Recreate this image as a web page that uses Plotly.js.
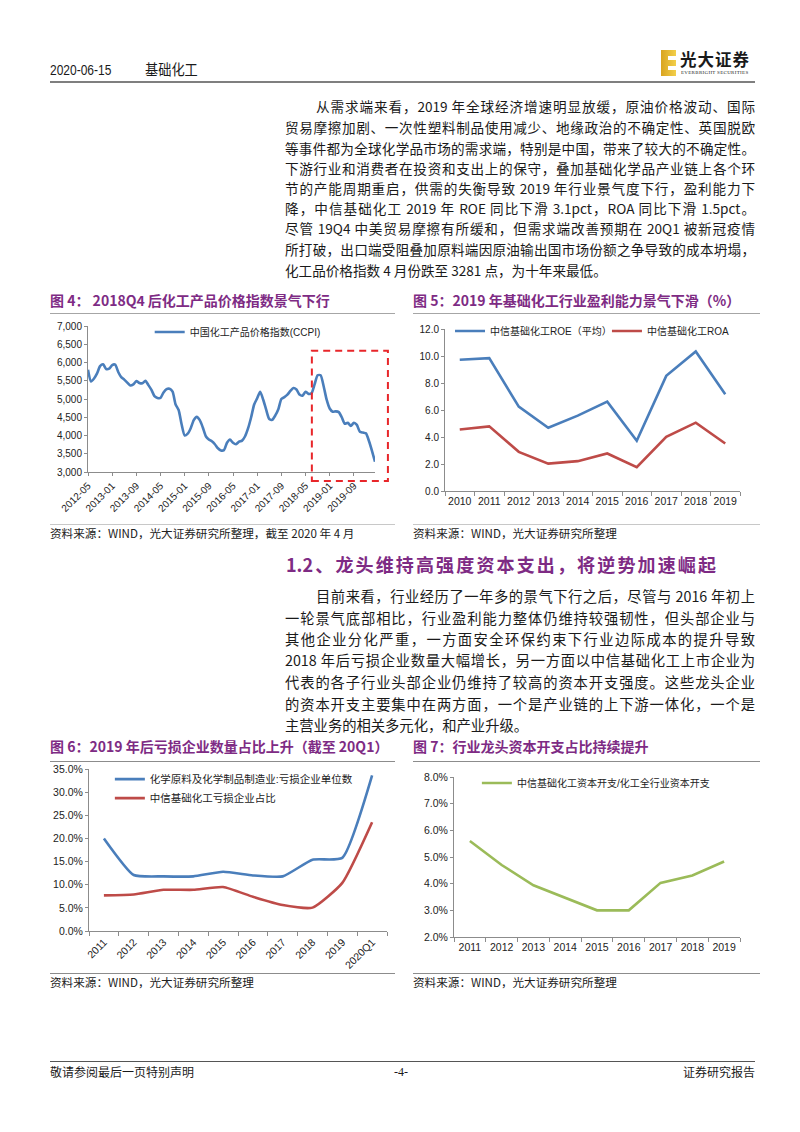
<!DOCTYPE html>
<html><head><meta charset="utf-8">
<script src="https://cdn.plot.ly/plotly-3.0.1.min.js"></script>
<style>
body{margin:0;width:800px;height:1132px;position:relative;background:#fff;font-family:"Noto Sans CJK SC","Noto Sans",sans-serif;overflow:hidden;color:#1a1a1a}
.a{position:absolute;white-space:nowrap;line-height:1}
.j{position:absolute;text-align:justify;text-align-last:justify;line-height:1;white-space:nowrap}
.p1{font-size:13.6px}
.p2{font-size:14.3px}
.ft{position:absolute;font-size:14px;font-weight:bold;color:#7E2B84;white-space:nowrap;line-height:1}
.src{position:absolute;font-size:11.6px;color:#222;white-space:nowrap;line-height:1}
.hl{position:absolute;height:0}
.ch{position:absolute}
</style></head><body>

<!-- header -->
<div class="a" style="left:50px;top:62px;font-family:'Liberation Sans',sans-serif;font-size:15px;transform:scaleX(0.8);transform-origin:left;">2020-06-15</div>
<div class="a" style="left:145px;top:61px;font-size:15px;transform:scaleX(0.88);transform-origin:left;">基础化工</div>
<div style="position:absolute;left:661px;top:50px;width:15px;height:26px;background:linear-gradient(90deg,#d9a420,#f2cf4a);"></div>
<div style="position:absolute;left:668px;top:56px;width:8px;height:4px;background:#fff;"></div>
<div style="position:absolute;left:668px;top:66px;width:8px;height:4px;background:#fff;"></div>
<div class="a" style="left:680px;top:51px;font-size:16.5px;font-weight:bold;letter-spacing:1px;">光大证券</div>
<div class="a" style="left:681px;top:70px;font-size:5px;font-family:'Liberation Serif',serif;letter-spacing:0.3px;">EVERBRIGHT SECURITIES</div>
<div class="hl" style="left:50px;top:81px;width:705px;border-top:2.5px solid #7f7f7f;"></div>

<!-- paragraph 1 -->
<div class="j p1" style="left:316px;top:100px;width:439px;">从需求端来看，2019 年全球经济增速明显放缓，原油价格波动、国际</div>
<div class="j p1" style="left:285px;top:121px;width:470px;">贸易摩擦加剧、一次性塑料制品使用减少、地缘政治的不确定性、英国脱欧</div>
<div class="j p1" style="left:285px;top:142px;width:470px;">等事件都为全球化学品市场的需求端，特别是中国，带来了较大的不确定性。</div>
<div class="j p1" style="left:285px;top:162px;width:470px;">下游行业和消费者在投资和支出上的保守，叠加基础化学品产业链上各个环</div>
<div class="j p1" style="left:285px;top:182px;width:470px;">节的产能周期重启，供需的失衡导致 2019 年行业景气度下行，盈利能力下</div>
<div class="j p1" style="left:285px;top:202px;width:470px;">降，中信基础化工 2019 年 ROE 同比下滑 3.1pct，ROA 同比下滑 1.5pct。</div>
<div class="j p1" style="left:285px;top:222px;width:470px;">尽管 19Q4 中美贸易摩擦有所缓和，但需求端改善预期在 20Q1 被新冠疫情</div>
<div class="j p1" style="left:285px;top:243px;width:470px;">所打破，出口端受阻叠加原料端因原油输出国市场份额之争导致的成本坍塌，</div>
<div class="a p1" style="left:285px;top:264px;">化工品价格指数 4 月份跌至 3281 点，为十年来最低。</div>

<!-- figure 4/5 titles -->
<div class="ft" style="left:50px;top:293px;">图 4：&nbsp;2018Q4 后化工产品价格指数景气下行</div>
<div class="ft" style="left:413px;top:293px;">图 5：2019 年基础化工行业盈利能力景气下滑（%）</div>
<div class="hl" style="left:50px;top:313px;width:345px;border-top:1.5px solid #a6a6a6;"></div>
<div class="hl" style="left:413px;top:313px;width:347px;border-top:1.5px solid #a6a6a6;"></div>

<div id="c4" class="ch" style="left:40px;top:300px;width:380px;height:223px;"></div>
<div id="c5" class="ch" style="left:405px;top:300px;width:375px;height:223px;"></div>

<div class="hl" style="left:50px;top:524px;width:345px;border-top:1px solid #c8c8c8;"></div>
<div class="hl" style="left:413px;top:524px;width:347px;border-top:1px solid #c8c8c8;"></div>
<div class="src" style="left:50px;top:528px;">资料来源：WIND，光大证券研究所整理，截至 2020 年 4 月</div>
<div class="src" style="left:413px;top:528px;">资料来源：WIND，光大证券研究所整理</div>

<!-- section heading -->
<div class="j" style="left:286px;top:555px;width:430px;font-size:18px;font-weight:bold;color:#7E2B84;">1.2、龙头维持高强度资本支出，将逆势加速崛起</div>

<!-- paragraph 2 -->
<div class="j p2" style="left:316px;top:589px;width:439px;">目前来看，行业经历了一年多的景气下行之后，尽管与 2016 年初上</div>
<div class="j p2" style="left:285px;top:611px;width:470px;">一轮景气底部相比，行业盈利能力整体仍维持较强韧性，但头部企业与</div>
<div class="j p2" style="left:285px;top:632px;width:470px;">其他企业分化严重，一方面安全环保约束下行业边际成本的提升导致</div>
<div class="j p2" style="left:285px;top:653px;width:470px;">2018 年后亏损企业数量大幅增长，另一方面以中信基础化工上市企业为</div>
<div class="j p2" style="left:285px;top:675px;width:470px;">代表的各子行业头部企业仍维持了较高的资本开支强度。这些龙头企业</div>
<div class="j p2" style="left:285px;top:697px;width:470px;">的资本开支主要集中在两方面，一个是产业链的上下游一体化，一个是</div>
<div class="a p2" style="left:285px;top:718px;">主营业务的相关多元化，和产业升级。</div>

<!-- figure 6/7 titles -->
<div class="ft" style="left:50px;top:739px;">图 6：2019 年后亏损企业数量占比上升（截至 20Q1）</div>
<div class="ft" style="left:413px;top:739px;">图 7：行业龙头资本开支占比持续提升</div>
<div class="hl" style="left:50px;top:761px;width:345px;border-top:1.5px solid #8c8c8c;"></div>
<div class="hl" style="left:413px;top:761px;width:347px;border-top:1.5px solid #8c8c8c;"></div>

<div id="c6" class="ch" style="left:40px;top:745px;width:380px;height:228px;"></div>
<div id="c7" class="ch" style="left:405px;top:750px;width:375px;height:223px;"></div>

<div class="hl" style="left:50px;top:973px;width:345px;border-top:1.5px solid #8c8c8c;"></div>
<div class="hl" style="left:413px;top:973px;width:347px;border-top:1.5px solid #8c8c8c;"></div>
<div class="src" style="left:50px;top:977px;">资料来源：WIND，光大证券研究所整理</div>
<div class="src" style="left:413px;top:977px;">资料来源：WIND，光大证券研究所整理</div>

<!-- footer -->
<div class="hl" style="left:50px;top:1061px;width:705px;border-top:1.5px solid #555;"></div>
<div class="a" style="left:50px;top:1066px;font-size:12px;">敬请参阅最后一页特别声明</div>
<div class="a" style="left:394px;top:1066px;font-size:12px;font-family:'Liberation Serif',serif;">-4-</div>
<div class="a" style="left:683px;top:1066px;font-size:12px;">证券研究报告</div>

<script>
// ---------- data ----------
// Fig 4: CCPI monthly, 2012-05 .. 2020-04
const ccpiStart = [2012, 5];
const ccpiValues = [
 5800,5480,5560,5700,5900,5950,5820,5830,5930,5940,
 5740,5600,5530,5450,5370,5400,5490,5440,5430,5500,
 5380,5250,5080,5030,5030,5180,5270,5280,5200,4850,
 4700,4300,4000,4050,4200,4420,4510,4420,4220,3980,
 3890,3840,3760,3650,3590,3600,3800,3890,3800,3760,
 3830,3860,3980,4200,4500,4850,5020,5200,4980,4700,
 4450,4430,4550,4720,5000,5050,5120,5220,5300,5260,
 5120,5090,5200,5140,5160,5400,5650,5650,5350,4980,
 4740,4650,4660,4640,4500,4320,4350,4260,4350,4290,
 4100,4080,4060,3850,3580,3281];
const ccpiTickLabels = ['2012-05','2013-01','2013-09','2014-05','2015-01','2015-09','2016-05','2017-01','2017-09','2018-05','2019-01','2019-09'];
const ccpiName = '中国化工产品价格指数(CCPI)';

// Fig 5
const years5 = ['2010','2011','2012','2013','2014','2015','2016','2017','2018','2019'];
const roe = [9.72,9.84,6.25,4.69,5.58,6.62,3.72,8.53,10.34,7.17];
const roa = [4.56,4.79,2.90,2.03,2.21,2.78,1.76,4.02,5.06,3.52];

// Fig 6
const years6 = ['2011','2012','2013','2014','2015','2016','2017','2018','2019','2020Q1'];
const lossIndustry = [20.0,12.1,11.8,11.8,12.8,12.0,11.8,15.4,15.8,33.6];
const lossCiti = [7.7,7.9,8.9,8.9,9.5,7.4,5.6,5.05,10.4,23.5];

// Fig 7
const years7 = ['2011','2012','2013','2014','2015','2016','2017','2018','2019'];
const capexShare = [5.6,4.7,3.94,3.48,3.0,3.0,4.03,4.31,4.83];

// ---------- helpers ----------
const ccpiMonths = ccpiValues.map((_, i) => {
  const m0 = ccpiStart[1] - 1 + i;
  const y = ccpiStart[0] + Math.floor(m0 / 12);
  const m = (m0 % 12) + 1;
  return y + '-' + (m < 10 ? '0' + m : m);
});

const BLUE = '#4A7EBB', RED = '#BE4B48', GREEN = '#9BBB59';
const FAM = '"Liberation Sans", Arial, "Noto Sans CJK SC", sans-serif';
const FONT = {family: FAM, size: 10, color: '#222'};
const LF10 = {family: FAM, size: 10, color: '#222'};
const LF105 = {family: FAM, size: 10.5, color: '#222'};
const AX = {showline: true, linecolor: '#8c8c8c', linewidth: 1, showgrid: false, zeroline: false,
            ticks: 'outside', ticklen: 3, tickcolor: '#8c8c8c', tickfont: FONT, fixedrange: true};
const cfg = {staticPlot: true, displayModeBar: false};
const base = {paper_bgcolor: 'rgba(0,0,0,0)', plot_bgcolor: 'rgba(0,0,0,0)', font: FONT, showlegend: true};
const f105 = Object.assign({}, FONT, {size: 10.5});
const LEG = {xanchor: 'left', bgcolor: 'rgba(0,0,0,0)', borderwidth: 0};

// ---------- Fig 4 ----------
Plotly.newPlot('c4', [{
  x: ccpiMonths, y: ccpiValues, type: 'scatter', mode: 'lines', name: ccpiName,
  line: {color: BLUE, width: 2.6, shape: 'spline', smoothing: 0.6}
}], Object.assign({}, base, {
  width: 380, height: 223, margin: {l: 48, r: 45, t: 26, b: 51},
  legend: Object.assign({}, LEG, {x: 0.215, y: 0.959, yanchor: 'middle', font: LF10}),
  xaxis: Object.assign({}, AX, {type: 'category', range: [0, ccpiValues.length - 1],
     tickvals: ccpiTickLabels, ticktext: ccpiTickLabels, tickangle: -45}),
  yaxis: Object.assign({}, AX, {range: [3000, 7000], dtick: 500, tickformat: ','}),
  shapes: [{type: 'rect', xref: 'paper', yref: 'paper', x0: 0.78, x1: 1.045, y0: -0.062, y1: 0.83,
            line: {color: '#E8262A', width: 2, dash: '7px,5px'}, fillcolor: 'rgba(0,0,0,0)'}]
}), cfg);

// ---------- Fig 5 ----------
Plotly.newPlot('c5', [
  {x: years5, y: roe, type: 'scatter', mode: 'lines', name: '中信基础化工ROE（平均）', line: {color: BLUE, width: 2.6}, legend: 'legend'},
  {x: years5, y: roa, type: 'scatter', mode: 'lines', name: '中信基础化工ROA', line: {color: RED, width: 2.6}, legend: 'legend2'}
], Object.assign({}, base, {
  width: 375, height: 223, margin: {l: 40, r: 40, t: 29, b: 32},
  legend: Object.assign({}, LEG, {x: 0.017, y: 0.988, yanchor: 'middle', font: LF10}),
  legend2: Object.assign({}, LEG, {x: 0.549, y: 0.988, yanchor: 'middle', font: LF10}),
  xaxis: Object.assign({}, AX, {type: 'category', range: [-0.5, years5.length - 0.5], tickson: 'boundaries', ticklen: 4, tickangle: 0, tickfont: f105}),
  yaxis: Object.assign({}, AX, {range: [0, 12], dtick: 2, tickformat: '.1f'})
}), cfg);

// ---------- Fig 6 ----------
Plotly.newPlot('c6', [
  {x: years6, y: lossIndustry, type: 'scatter', mode: 'lines', name: '化学原料及化学制品制造业:亏损企业单位数',
   line: {color: BLUE, width: 2.6, shape: 'spline', smoothing: 0.5}},
  {x: years6, y: lossCiti, type: 'scatter', mode: 'lines', name: '中信基础化工亏损企业占比',
   line: {color: RED, width: 2.6, shape: 'spline', smoothing: 0.5}}
], Object.assign({}, base, {
  width: 380, height: 228, margin: {l: 49, r: 33, t: 24, b: 42},
  legend: Object.assign({}, LEG, {x: 0.07, y: 1.027, yanchor: 'top', font: LF105, tracegroupgap: 0}),
  xaxis: Object.assign({}, AX, {type: 'category', range: [-0.5, years6.length - 0.5], tickson: 'boundaries', ticklen: 4, tickangle: -45, tickfont: f105}),
  yaxis: Object.assign({}, AX, {range: [0, 35], dtick: 5, tickformat: '.1f', ticksuffix: '%', tickfont: f105})
}), cfg);

// ---------- Fig 7 ----------
Plotly.newPlot('c7', [
  {x: years7, y: capexShare, type: 'scatter', mode: 'lines', name: '中信基础化工资本开支/化工全行业资本开支',
   line: {color: GREEN, width: 2.6}}
], Object.assign({}, base, {
  width: 375, height: 223, margin: {l: 49, r: 40, t: 27, b: 36},
  legend: Object.assign({}, LEG, {x: 0.08, y: 0.9625, yanchor: 'middle', font: LF10}),
  xaxis: Object.assign({}, AX, {type: 'category', range: [-0.5, years7.length - 0.5], tickson: 'boundaries', ticklen: 4, tickangle: 0, tickfont: f105}),
  yaxis: Object.assign({}, AX, {range: [2, 8], dtick: 1, tickformat: '.1f', ticksuffix: '%', tickfont: f105})
}), cfg);
</script>
</body></html>
